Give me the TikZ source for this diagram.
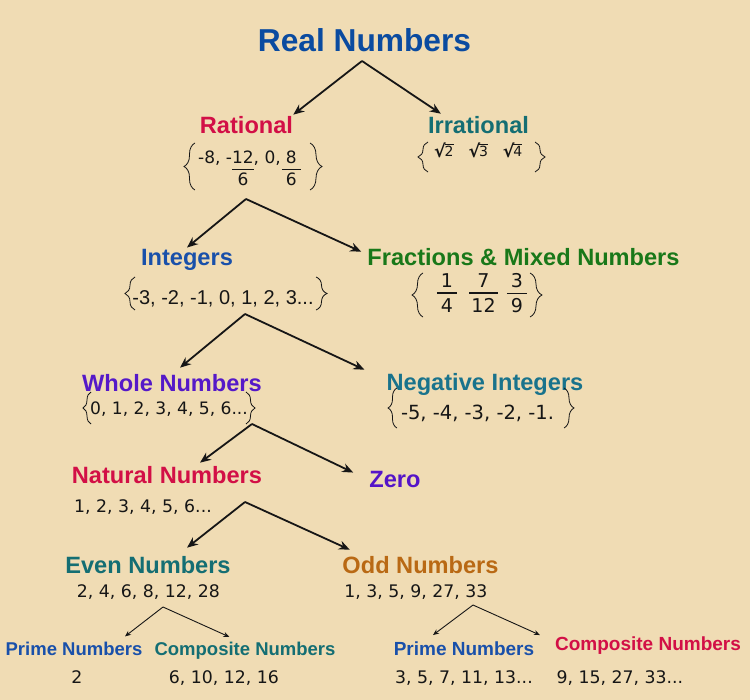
\documentclass[tikz,border=0pt]{standalone}
\usepackage{fontspec}
\setmainfont{Liberation Sans}
\newfontfamily\numf{DejaVu Sans}
\usetikzlibrary{arrows.meta,decorations.pathreplacing}
\definecolor{bg}{RGB}{240,220,180}
\definecolor{ink}{RGB}{22,22,22}
\definecolor{realblue}{RGB}{10,75,160}
\definecolor{ratred}{RGB}{210,15,70}
\definecolor{irrteal}{RGB}{20,110,115}
\definecolor{intblue}{RGB}{25,80,170}
\definecolor{fracgreen}{RGB}{25,120,25}
\definecolor{wholepurple}{RGB}{85,25,200}
\definecolor{negteal}{RGB}{25,115,140}
\definecolor{zeropurple}{RGB}{85,20,200}
\definecolor{eventeal}{RGB}{20,110,115}
\definecolor{oddorange}{RGB}{185,105,20}
% stacked fraction: #1 pad, #2 numerator, #3 denominator, #4 gap above bar, #5 gap below bar
\newcommand\stk[5]{\vtop{\halign{\hfil\kern#1##\kern#1\hfil\cr#2\cr\noalign{\kern#4\hrule height 1.1pt\kern#5}#3\cr}}}
% square root drawn from text glyphs
\newcommand\rt[1]{\raisebox{-0.8pt}{\fontsize{17.5}{20}\selectfont\bfseries √}\kern-1.2pt\vbox{\hrule height 1.2pt\kern1.6pt\hbox{#1}}}
\begin{document}
\begin{tikzpicture}[x=1pt,y=-1pt,
  hd/.style={inner sep=0pt, anchor=base, font=\fontsize{23.6}{28}\selectfont\bfseries},
  sm/.style={inner sep=0pt, anchor=base, font=\fontsize{18.5}{22}\selectfont\bfseries},
  nums/.style={inner sep=0pt, anchor=base, text=ink, font=\numf\fontsize{17.3}{21}\selectfont},
  arr/.style={draw=ink, line width=1.8pt, -{Stealth[length=11pt,width=9pt]}},
  tarr/.style={draw=ink, line width=0.9pt, -{Stealth[length=6pt,width=5pt]}},
  brc/.style={draw=ink, line width=0.8pt, decorate, decoration={brace, amplitude=#1}},
]
\fill[bg] (0,0) rectangle (750,700);
\useasboundingbox (0,0) rectangle (750,700);

% headings and sets
\node[hd, font=\fontsize{31.7}{38}\selectfont\bfseries, text=realblue] (real) at (364.5,52) {Real Numbers};
\node[hd, text=ratred] (rat) at (246.5,133.5) {Rational};
\node[hd, text=irrteal] (irr) at (478.5,133.5) {Irrational};
\node[nums, anchor=base west, font=\numf\fontsize{17}{21}\selectfont] (ratset) at (198,164)
  {-8, -\stk{0pt}{12}{6}{4.7pt}{2.7pt}, 0,\kern1pt\stk{4pt}{8}{6}{4.7pt}{2.7pt}};
\node[nums, anchor=base west, font=\numf\fontsize{14}{16}\selectfont] (irrset) at (434,157)
  {\rt{2}\hspace{15pt}\rt{3}\hspace{15pt}\rt{4}};

\node[hd, text=intblue] (int) at (187,266) {Integers};
\node[hd, text=fracgreen] (frac) at (523.5,266) {Fractions \& Mixed Numbers};
\node[nums, font=\fontsize{20}{24}\selectfont] (intset) at (223,305) {-3, -2, -1, 0, 1, 2, 3...};
\node[nums, font=\numf\fontsize{19}{23}\selectfont] (f1) at (447,288) {\stk{4pt}{1}{4}{4.5pt}{5pt}};
\node[nums, font=\numf\fontsize{19}{23}\selectfont] (f2) at (483.5,288) {\stk{2pt}{7}{12}{4.5pt}{5pt}};
\node[nums, font=\numf\fontsize{19}{23}\selectfont] (f3) at (517,288) {\stk{4pt}{3}{9}{4.5pt}{5pt}};

\node[hd, text=wholepurple] (whole) at (172,392) {Whole Numbers};
\node[nums, font=\numf\fontsize{17.1}{21}\selectfont] (wholeset) at (169,415) {0, 1, 2, 3, 4, 5, 6...};
\node[hd, text=negteal] (neg) at (485,391) {Negative Integers};
\node[nums, font=\numf\fontsize{19.5}{23}\selectfont] (negset) at (477.5,420) {-5, -4, -3, -2, -1.};

\node[hd, text=ratred] (nat) at (167,483) {Natural Numbers};
\node[nums] (natset) at (143,512) {1, 2, 3, 4, 5, 6...};
\node[hd, text=zeropurple] (zero) at (395,488) {Zero};

\node[hd, text=eventeal] (even) at (148,573) {Even Numbers};
\node[nums] (evenset) at (148.5,597) {2, 4, 6, 8, 12, 28};
\node[hd, text=oddorange] (odd) at (420.5,573) {Odd Numbers};
\node[nums] (oddset) at (416,597) {1, 3, 5, 9, 27, 33};

\node[sm, text=intblue] (prime1) at (74,655) {Prime Numbers};
\node[sm, text=eventeal] (comp1) at (245,655.5) {Composite Numbers};
\node[nums] (prime1set) at (77,683) {2};
\node[nums] (comp1set) at (224,683) {6, 10, 12, 16};
\node[sm, font=\fontsize{19}{23}\selectfont\bfseries, text=intblue] (prime2) at (464,655) {Prime Numbers};
\node[sm, font=\fontsize{19}{23}\selectfont\bfseries, text=ratred] (comp2) at (648,650) {Composite Numbers};
\node[nums] (prime2set) at (464,683) {3, 5, 7, 11, 13...};
\node[nums] (comp2set) at (620,683) {9, 15, 27, 33...};

% braces
\draw[brc=11pt] (195,190) -- (195,143);
\draw[brc=12pt] (310,143) -- (310,190);
\draw[brc=10pt] (428,172) -- (428,142);
\draw[brc=10pt] (535,142) -- (535,172);
\draw[brc=10pt] (135,310) -- (135,277);
\draw[brc=11pt] (316,277) -- (316,310);
\draw[brc=11pt] (423,317) -- (423,273);
\draw[brc=12pt] (530,273) -- (530,317);
\draw[brc=8pt] (91,424) -- (91,392);
\draw[brc=9pt] (246,392) -- (246,424);
\draw[brc=9pt] (397,428) -- (397,388);
\draw[brc=10pt] (564,388) -- (564,428);

% connectors
\coordinate (ap1) at (362,61);
\draw[arr] (ap1) -- ([yshift=1.5pt]rat.north east);
\draw[arr] (ap1) -- ([xshift=13pt,yshift=2.5pt]irr.north west);
\coordinate (ap2) at (246,199);
\draw[arr] (ap2) -- ([yshift=2pt]int.north);
\draw[arr] (ap2) -- ([xshift=-6pt,yshift=-3pt]frac.north west);
\coordinate (ap3) at (245,314);
\draw[arr] (ap3) -- ([xshift=8pt,yshift=7pt]whole.north);
\draw[arr] (ap3) -- ([xshift=-22pt,yshift=4pt]neg.north west);
\coordinate (ap4) at (252,424);
\draw[arr] (ap4) -- ([xshift=33pt,yshift=3pt]nat.north);
\draw[arr] (ap4) -- ([xshift=-16pt,yshift=-1pt]zero.north west);
\coordinate (ap5) at (245,502);
\draw[arr] (ap5) -- ([xshift=39pt,yshift=8pt]even.north);
\draw[arr] (ap5) -- ([xshift=7.5pt,yshift=6pt]odd.north west);
\coordinate (ap6) at (163,607);
\draw[tarr] (ap6) -- ([xshift=51pt,yshift=5pt]prime1.north);
\draw[tarr] (ap6) -- ([xshift=75pt,yshift=5pt]comp1.north west);
\coordinate (ap7) at (473,605);
\draw[tarr] (ap7) -- ([xshift=-31pt,yshift=6pt]prime2.north);
\draw[tarr] (ap7) -- ([xshift=-15pt,yshift=1pt]comp2.north west);
\end{tikzpicture}
\end{document}
